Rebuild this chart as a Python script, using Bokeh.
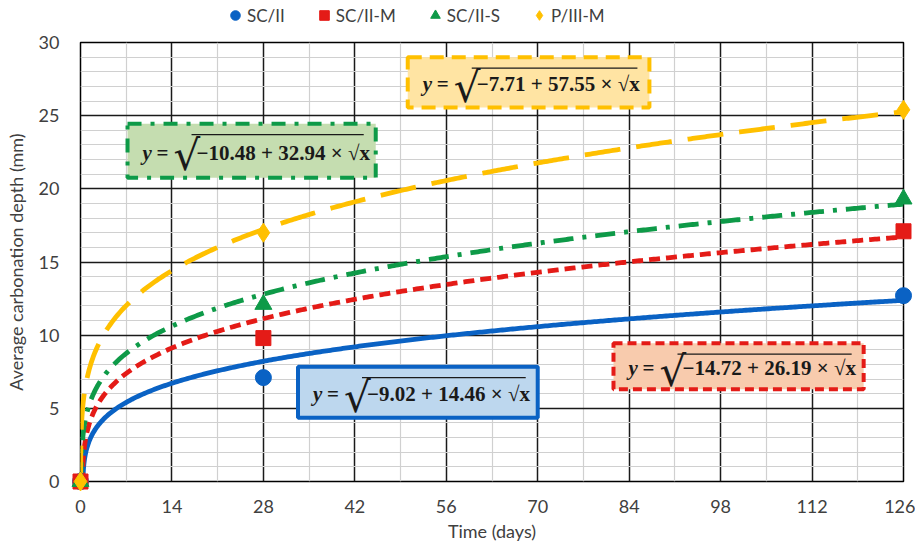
import numpy as np
from bokeh.plotting import figure
from bokeh.layouts import column
from bokeh.models import (FixedTicker, Legend, LegendItem, Label, BoxAnnotation,
                          Range1d, ColumnDataSource)
from bokeh.embed import file_html
from bokeh.resources import INLINE

# ---------------- data ----------------
series = ["SC/II", "SC/II-M", "SC/II-S", "P/III-M"]
days = [0, 28, 126]
depth_sc2 = [0.0, 7.1, 12.7]
depth_sc2m = [0.0, 9.8, 17.1]
depth_sc2s = [0.0, 12.1, 19.3]
depth_p3m = [0.0, 17.0, 25.4]
fit_a = [-9.02, -14.72, -10.48, -7.71]
fit_b = [14.46, 26.19, 32.94, 57.55]
x_ticks = [0, 14, 28, 42, 56, 70, 84, 98, 112, 126]
x_minor = [7, 21, 35, 49, 63, 77, 91, 105, 119]
y_ticks = [0, 5, 10, 15, 20, 25, 30]
y_minor = [v for v in range(1, 30) if v % 5 != 0]

depths = [depth_sc2, depth_sc2m, depth_sc2s, depth_p3m]
colors = ["#0A62C4", "#E41B17", "#0E9A48", "#FFC000"]
dashes = ["solid", "11 6", "20 9 4 9", "36 16"]
markers = ["circle", "square", "triangle", "diamond"]
msizes = [16, 15, 17, 19]
box_fill = ["#BDD7EE", "#F8CBAD", "#C5DDB0", "#FFE4A3"]
box_dash = ["solid", "9 5", "14 9 4 9", "14 8"]

FONT = "Lato"
TXT = "#404040"
W = 915
LEG_H = 30

# ---------------- main figure ----------------
p = figure(width=W, height=514, output_backend="svg", toolbar_location=None,
           x_range=Range1d(0, 126), y_range=Range1d(0, 30),
           min_border_left=80, min_border_right=12, min_border_top=12,
           min_border_bottom=63)
p.outline_line_color = "black"
p.outline_line_width = 1.5
p.background_fill_color = "white"
p.border_fill_color = "white"

p.xaxis.ticker = FixedTicker(ticks=x_ticks, minor_ticks=x_minor)
p.yaxis.ticker = FixedTicker(ticks=y_ticks, minor_ticks=y_minor)
for ax in (p.xaxis, p.yaxis):
    ax.axis_line_color = None
    ax.major_tick_line_color = None
    ax.minor_tick_line_color = None
    ax.major_label_text_font = FONT
    ax.major_label_text_font_size = "18px"
    ax.major_label_text_color = TXT
    ax.axis_label_text_font = FONT
    ax.axis_label_text_font_size = "18px"
    ax.axis_label_text_color = TXT
    ax.axis_label_text_font_style = "normal"
p.xaxis.axis_label = "Time (days)"
p.yaxis.axis_label = "Average carbonation depth (mm)"
p.xaxis.major_label_standoff = 12
p.yaxis.major_label_standoff = 15
p.xaxis.axis_label_standoff = 4
p.yaxis.axis_label_standoff = 9

for g in (p.xgrid, p.ygrid):
    g.grid_line_color = "#1a1a1a"
    g.grid_line_width = 1.5
    g.minor_grid_line_color = "#D0D0D0"
    g.minor_grid_line_width = 1.2

# fitted curves
for a, b, c, d in zip(fit_a, fit_b, colors, dashes):
    x0 = (a / b) ** 2
    xs = np.concatenate([np.linspace(x0, 1.0, 60), np.linspace(1.0, 126, 400)[1:]])
    ys = np.sqrt(np.clip(a + b * np.sqrt(xs), 0, None))
    p.line(np.concatenate([[0.0], xs]), np.concatenate([[0.0], ys]),
           line_color=c, line_width=4.8, line_dash=d, line_cap="butt")

# measured points
for name, dep, c, m, s in zip(series, depths, colors, markers, msizes):
    src = ColumnDataSource(dict(x=days, y=dep))
    p.scatter("x", "y", source=src, marker=m, size=s, fill_color=c,
              line_color=c, line_width=1, level="overlay")

# equation boxes
PXX = 126 / 823.0   # data units per pixel (x)
PXY = 30 / 439.0    # data units per pixel (y)
boxes = [
    (33.3, 70.0, 7.85, 4.35),    # SC/II
    (81.6, 119.9, 9.45, 6.3),    # SC/II-M
    (7.2, 45.2, 24.45, 20.75),   # SC/II-S
    (50.1, 87.1, 29.0, 25.55),   # P/III-M
]
SERIF = "Liberation Serif"
for i, (l, r, t, bt) in enumerate(boxes):
    p.add_layout(BoxAnnotation(left=l, right=r, top=t, bottom=bt,
                               fill_color=box_fill[i], fill_alpha=1.0,
                               line_color=colors[i], line_alpha=1.0, line_width=4,
                               line_dash=box_dash[i], level="annotation"))
    yc = (t + bt) / 2 - 2 * PXY
    radicand = "\u2212%.2f + %.2f \u00d7 \u221ax" % (-fit_a[i], fit_b[i])
    p.add_layout(Label(x=l + 15 * PXX, y=yc, text="y", text_font=SERIF,
                       text_font_size="21px", text_font_style="bold italic",
                       text_baseline="middle", text_align="left", text_color="#1a1a1a",
                       level="overlay"))
    p.add_layout(Label(x=l + 29 * PXX, y=yc, text="=", text_font=SERIF,
                       text_font_size="21px", text_font_style="bold",
                       text_baseline="middle", text_align="left", text_color="#1a1a1a",
                       level="overlay"))
    p.add_layout(Label(x=l + 46 * PXX, y=yc - 3 * PXY, text="\u221a",
                       text_font="DejaVu Sans", text_font_size="42px",
                       text_baseline="middle", text_align="left", text_color="#1a1a1a",
                       level="overlay"))
    p.add_layout(Label(x=l + 69 * PXX, y=yc, text=radicand,
                       text_font=SERIF, text_font_size="21px",
                       text_font_style="bold", text_baseline="middle", text_align="left",
                       text_color="#1a1a1a", level="overlay"))
    ytop = t - 11 * PXY
    p.segment(x0=[l + 64 * PXX], y0=[ytop], x1=[r - 12 * PXX], y1=[ytop],
              line_color="#1a1a1a", line_width=1.3, level="overlay")

# ---------------- legend strip ----------------
lg = figure(width=W, height=LEG_H, output_backend="svg", toolbar_location=None,
            x_axis_type=None, y_axis_type=None, x_range=Range1d(0, 1), y_range=Range1d(0, 1),
            min_border=0)
lg.outline_line_color = None
lg.grid.visible = False
items = []
for name, c, m in zip(series, colors, markers):
    r = lg.scatter(x=[5], y=[5], marker=m, size=13, fill_color=c, line_color=c)
    items.append(LegendItem(label=name, renderers=[r]))
legend = Legend(items=items, orientation="horizontal", location=(143, 3),
                label_text_font=FONT, label_text_font_size="17px",
                label_text_color=TXT, glyph_width=24, glyph_height=24,
                label_standoff=0, spacing=27, padding=0, margin=0,
                border_line_color=None, background_fill_alpha=0)
lg.add_layout(legend, "center")

open("out.html", "w").write(file_html(column(lg, p, spacing=0), INLINE))
